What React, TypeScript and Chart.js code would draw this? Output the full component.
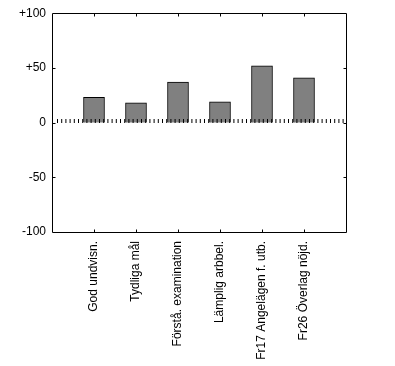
import React, { useEffect, useRef } from "react";
import { Chart, registerables } from "chart.js";

Chart.register(...registerables);

const categories = [
  "God undvisn.",
  "Tydliga mål",
  "Förstå. examination",
  "Lämplig arbbel.",
  "Fr17 Angelägen f. utb.",
  "Fr26 Överlag nöjd.",
];
const values = [23, 18, 37, 19, 52, 41];
const yTicks = [-100, -50, 0, 50, 100];
const innerTickValues = [-50, 0, 50];

const FONT = "'Liberation Sans', Arial, sans-serif";

const framePlugin = {
  id: "frame",
  afterDatasetsDraw(chart: any) {
    const { ctx, chartArea } = chart;
    const y = chart.scales.y;
    const x = chart.scales.x;
    const zy = Math.round(y.getPixelForValue(0));
    ctx.save();
    // dotted zero line
    ctx.strokeStyle = "#000";
    ctx.lineWidth = 1;
    ctx.setLineDash([1, 3.2]);
    ctx.beginPath();
    ctx.moveTo(chartArea.left + 5, zy - 2);
    ctx.lineTo(chartArea.right, zy - 2);
    ctx.lineWidth = 4;
    ctx.stroke();
    ctx.setLineDash([]);
    ctx.lineWidth = 1;
    // frame
    const l = Math.round(chartArea.left) + 0.5;
    const r = Math.round(chartArea.right) + 0.5;
    const t = Math.round(chartArea.top) + 0.5;
    const b = Math.round(chartArea.bottom) + 0.5;
    ctx.beginPath();
    ctx.rect(l, t, r - l, b - t);
    // inward ticks on top/bottom
    for (let i = 1; i <= categories.length; i++) {
      const px = Math.round(x.getPixelForValue(i)) + 0.5;
      ctx.moveTo(px, t);
      ctx.lineTo(px, t + 3);
      ctx.moveTo(px, b);
      ctx.lineTo(px, b - 3);
    }
    // inward ticks left/right
    for (const v of innerTickValues) {
      const py = Math.round(y.getPixelForValue(v)) + 0.5;
      ctx.moveTo(l, py);
      ctx.lineTo(l + 3, py);
      ctx.moveTo(r, py);
      ctx.lineTo(r - 3, py);
    }
    ctx.stroke();
    ctx.restore();
  },
};

export default function App() {
  const ref = useRef<HTMLCanvasElement | null>(null);
  useEffect(() => {
    document.body.style.margin = "0";
    const labels = ["", ...categories, ""];
    const data = [null, ...values, null];
    const chart = new Chart(ref.current as HTMLCanvasElement, {
      type: "bar",
      data: {
        labels,
        datasets: [
          {
            data: data as any,
            backgroundColor: "#808080",
            borderColor: "#000000",
            borderWidth: 1,
            barThickness: 21,
          },
        ],
      },
      options: {
        animation: false,
        responsive: false,
        devicePixelRatio: 1,
        layout: { padding: { top: 12, right: 49, left: 0, bottom: 0 } },
        plugins: { legend: { display: false }, tooltip: { enabled: false } },
        scales: {
          x: {
            offset: false,
            grid: { display: false, drawTicks: false },
            border: { display: false },
            ticks: {
              autoSkip: false,
              maxRotation: 90,
              minRotation: 90,
              padding: 9,
              color: "#000",
              font: { family: FONT, size: 12 },
            },
            afterFit(scale: any) {
              scale.height = 134;
            },
          },
          y: {
            min: -100,
            max: 100,
            afterBuildTicks(scale: any) {
              scale.ticks = yTicks.map((v) => ({ value: v }));
            },
            grid: { display: false, drawTicks: false },
            border: { display: false },
            ticks: {
              padding: 6,
              color: "#000",
              font: { family: FONT, size: 12 },
              callback: (v: any) => (v > 0 ? "+" + v : String(v)),
            },
            afterFit(scale: any) {
              scale.width = 52;
            },
          },
        },
      },
      plugins: [framePlugin],
    });
    return () => chart.destroy();
  }, []);
  return (
    <div style={{ width: 395, height: 366, background: "#fff" }}>
      <canvas ref={ref} width={395} height={366} />
    </div>
  );
}
